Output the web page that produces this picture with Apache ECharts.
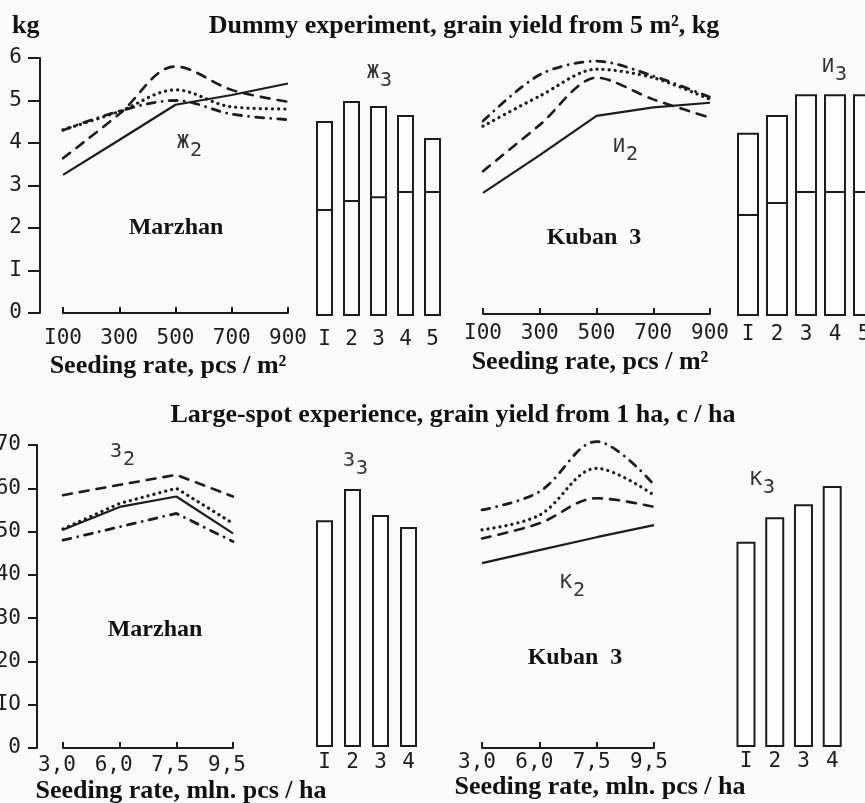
<!DOCTYPE html>
<html>
<head>
<meta charset="utf-8">
<script src="https://cdn.jsdelivr.net/npm/echarts@6/dist/echarts.min.js"></script>
<style>
html,body{margin:0;padding:0;background:#fafafa;}
#c{width:865px;height:803px;}
</style>
</head>
<body>
<div id="c"></div>
<script>
// ---------- data ----------
const seedRateM2 = ['I00', '300', '500', '700', '900'];
const seedRateHa = ['3,0', '6,0', '7,5', '9,5'];
const barCats5 = ['I', '2', '3', '4', '5'];
const barCats4 = ['I', '2', '3', '4'];
const kgTicks = ['0', 'I', '2', '3', '4', '5', '6'];
const haTicks = ['0', 'IO', '20', '30', '40', '50', '60', '70'];

// Dummy experiment, kg from 5 m2 — Marzhan (Ж2)
const marzhanPlotSolid   = [3.25, 4.07, 4.90, 5.13, 5.40];
const marzhanPlotDashed  = [3.64, 4.68, 5.80, 5.25, 4.97];
const marzhanPlotDotted  = [4.31, 4.74, 5.25, 4.85, 4.80];
const marzhanPlotDashDot = [4.30, 4.75, 5.00, 4.68, 4.55];
// Ж3 bars
const marzhanPlotBarTotal = [4.59, 5.06, 4.94, 4.73, 4.19];
const marzhanPlotBarLower = [2.52, 2.73, 2.82, 2.94, 2.94];

// Kuban 3 (И2)
const kubanPlotSolid   = [2.85, 3.74, 4.66, 4.86, 4.97];
const kubanPlotDashed  = [3.36, 4.45, 5.56, 5.05, 4.62];
const kubanPlotDotted  = [4.42, 5.13, 5.76, 5.56, 5.05];
const kubanPlotDashDot = [4.54, 5.63, 5.95, 5.60, 5.10];
// И3 bars
const kubanPlotBarTotal = [4.31, 4.73, 5.22, 5.22, 5.22];
const kubanPlotBarLower = [2.40, 2.68, 2.94, 2.94, 2.94];

// Large-spot experience, c/ha — Marzhan (З2)
const marzhanFieldSolid   = [50.4, 55.7, 58.1, 49.6];
const marzhanFieldDashed  = [58.4, 60.8, 63.1, 58.1];
const marzhanFieldDotted  = [50.6, 56.5, 60.0, 51.9];
const marzhanFieldDashDot = [48.0, 51.1, 54.2, 47.7];
// З3 bars
const marzhanFieldBars = [52.4, 59.6, 53.6, 50.8];

// Kuban 3 (К2)
const kubanFieldSolid   = [42.7, 45.7, 48.7, 51.5];
const kubanFieldDashed  = [48.4, 51.9, 57.7, 55.7];
const kubanFieldDotted  = [50.4, 53.8, 64.6, 58.4];
const kubanFieldDashDot = [55.0, 59.2, 70.8, 60.8];
// К3 bars
const kubanFieldBars = [47.4, 53.1, 56.1, 60.3];

// ---------- styles ----------
const INK = '#1c1c1c';
const MONO = 'DejaVu Sans Mono';
const SERIF = 'Liberation Serif';
const TICK_FS = 21;
const lineStyles = {
  solid:   {type: 'solid', width: 2.2},
  dashed:  {type: [9, 8], width: 2.6, cap: 'round'},
  dotted:  {type: [0.1, 6], width: 3.2, cap: 'round'},
  dashdot: {type: [8, 7, 0.1, 7], width: 2.8, cap: 'round'}
};

function g(left, top, width, height) {
  return {left: left, top: top, width: width, height: height, containLabel: false, outerBoundsMode: 'none'};
}
const grids = [
  g(63, 58, 225, 255),      // 0 top-left lines
  g(311, 61, 135, 255),     // 1 top-left bars
  g(483, 59, 227, 255),     // 2 top-right lines
  g(733.5, 61, 145, 255),   // 3 top-right bars
  g(63, 445, 170, 303),     // 4 bottom-left lines
  g(310.5, 444, 112, 303),  // 5 bottom-left bars
  g(482, 445, 172, 303),    // 6 bottom-right lines
  g(731.6, 444, 115, 303)   // 7 bottom-right bars
];

function lineX(gi, cats, margin, padRight) {
  return {
    type: 'category', gridIndex: gi, data: cats, boundaryGap: false,
    axisLine: {show: true, lineStyle: {color: INK, width: 2}},
    axisTick: {show: true, inside: true, length: 6, lineStyle: {color: INK, width: 2}},
    axisLabel: {show: true, margin: margin, fontFamily: MONO, fontSize: TICK_FS, color: INK,
                padding: [0, padRight || 0, 0, 0], interval: 0}
  };
}
function barX(gi, cats, margin) {
  return {
    type: 'category', gridIndex: gi, data: cats,
    axisLine: {show: false}, axisTick: {show: false},
    axisLabel: {margin: margin, fontFamily: MONO, fontSize: TICK_FS, color: INK, interval: 0}
  };
}
function hiddenY(gi, max) {
  return {type: 'value', gridIndex: gi, min: 0, max: max, show: false, splitLine: {show: false}};
}
function shownY(gi, max, interval, ticks, offset, margin, tickLen) {
  return {
    type: 'value', gridIndex: gi, min: 0, max: max, interval: interval, offset: offset,
    splitLine: {show: false},
    axisLine: {show: true, lineStyle: {color: INK, width: 2}},
    axisTick: {show: true, length: tickLen, lineStyle: {color: INK, width: 2}},
    axisLabel: {margin: margin, fontFamily: MONO, fontSize: TICK_FS, color: INK,
                formatter: v => ticks[Math.round(v / interval)]}
  };
}

function lineSeries(idx, data, style, smooth) {
  return {
    type: 'line', xAxisIndex: idx, yAxisIndex: idx, data: data, symbol: 'none',
    smooth: smooth, clip: false, silent: true,
    lineStyle: Object.assign({color: INK}, lineStyles[style])
  };
}
const barItem = {color: '#fcfcfc', borderColor: INK, borderWidth: 2};
function splitBars(idx, lower, total, bw) {
  // full bar, with the lower part drawn over it so that only its top edge shows as the inner line
  return [
    {type: 'bar', xAxisIndex: idx, yAxisIndex: idx, data: total, barWidth: bw, barGap: '-100%', itemStyle: barItem, silent: true},
    {type: 'bar', xAxisIndex: idx, yAxisIndex: idx, data: lower, barWidth: bw, barGap: '-100%', itemStyle: barItem, silent: true}
  ];
}
function plainBars(idx, data, bw) {
  return {type: 'bar', xAxisIndex: idx, yAxisIndex: idx, data: data, barWidth: bw, itemStyle: barItem, silent: true};
}

// text helpers
function serifText(str, x, y, size) {
  return {type: 'text', x: x, y: y, silent: true,
    style: {text: str, fontFamily: SERIF, fontWeight: 'bold', fontSize: size || 25, fill: '#111',
            textAlign: 'center', textVerticalAlign: 'middle'}};
}
function subLabel(letter, sub, x, y) {
  return {type: 'group', x: x, y: y, silent: true, children: [
    {type: 'text', x: 0, y: 0, style: {text: letter, fontFamily: MONO, fontSize: 20, fill: '#333', textVerticalAlign: 'middle'}},
    {type: 'text', x: 13, y: 8, style: {text: sub, fontFamily: MONO, fontSize: 20, fill: '#333', textVerticalAlign: 'middle'}}
  ]};
}

const option = {
  backgroundColor: '#fafafa',
  animation: false,
  grid: grids,
  xAxis: [
    lineX(0, seedRateM2, 15),
    barX(1, barCats5, 13),
    lineX(2, seedRateM2, 9),
    barX(3, barCats5, 8),
    lineX(4, seedRateHa, 7, 12),
    barX(5, barCats4, 5),
    lineX(6, seedRateHa, 4, 10),
    barX(7, barCats4, 4)
  ],
  yAxis: [
    shownY(0, 6, 1, kgTicks, 23, 18, 12),
    hiddenY(1, 6),
    hiddenY(2, 6),
    hiddenY(3, 6),
    shownY(4, 70, 10, haTicks, 26, 16, 9),
    hiddenY(5, 70),
    hiddenY(6, 70),
    hiddenY(7, 70)
  ],
  series: [
    lineSeries(0, marzhanPlotSolid, 'solid', false),
    lineSeries(0, marzhanPlotDashed, 'dashed', 0.35),
    lineSeries(0, marzhanPlotDotted, 'dotted', 0.35),
    lineSeries(0, marzhanPlotDashDot, 'dashdot', 0.35),
    ...splitBars(1, marzhanPlotBarLower, marzhanPlotBarTotal, 17),
    lineSeries(2, kubanPlotSolid, 'solid', false),
    lineSeries(2, kubanPlotDashed, 'dashed', 0.3),
    lineSeries(2, kubanPlotDotted, 'dotted', 0.3),
    lineSeries(2, kubanPlotDashDot, 'dashdot', 0.3),
    ...splitBars(3, kubanPlotBarLower, kubanPlotBarTotal, 22),
    lineSeries(4, marzhanFieldSolid, 'solid', false),
    lineSeries(4, marzhanFieldDashed, 'dashed', false),
    lineSeries(4, marzhanFieldDotted, 'dotted', false),
    lineSeries(4, marzhanFieldDashDot, 'dashdot', false),
    plainBars(5, marzhanFieldBars, 17),
    lineSeries(6, kubanFieldSolid, 'solid', false),
    lineSeries(6, kubanFieldDashed, 'dashed', 0.35),
    lineSeries(6, kubanFieldDotted, 'dotted', 0.35),
    lineSeries(6, kubanFieldDashDot, 'dashdot', 0.35),
    plainBars(7, kubanFieldBars, 19)
  ],
  graphic: [
    {type: 'text', x: 12, y: 26, silent: true,
     style: {text: 'kg', fontFamily: SERIF, fontWeight: 'bold', fontSize: 26, fill: '#111', textVerticalAlign: 'middle'}},
    serifText('Dummy experiment, grain yield from 5 m\u00b2, kg', 464, 26, 26),
    serifText('Marzhan', 176, 228, 24),
    serifText('Kuban  3', 594, 238, 24),
    serifText('Seeding rate, pcs / m\u00b2', 168, 366, 26),
    serifText('Seeding rate, pcs / m\u00b2', 590, 362, 26),
    serifText('Large-spot experience, grain yield from 1 ha, c / ha', 453, 415, 26),
    serifText('Marzhan', 155, 630, 24),
    serifText('Kuban  3', 575, 658, 24),
    serifText('Seeding rate, mln. pcs / ha', 181, 791, 26),
    serifText('Seeding rate, mln. pcs / ha', 600, 787, 26),
    subLabel('\u0416', '2', 177, 143),
    subLabel('\u0418', '2', 613, 147),
    subLabel('\u0416', '3', 367, 73),
    subLabel('\u0418', '3', 822, 67),
    subLabel('\u0417', '2', 110, 452),
    subLabel('\u0417', '3', 343, 461),
    subLabel('\u041a', '2', 560, 583),
    subLabel('\u041a', '3', 750, 480)
  ]
};

const chart = echarts.init(document.getElementById('c'), null, {renderer: 'canvas'});
chart.setOption(option);
</script>
</body>
</html>
